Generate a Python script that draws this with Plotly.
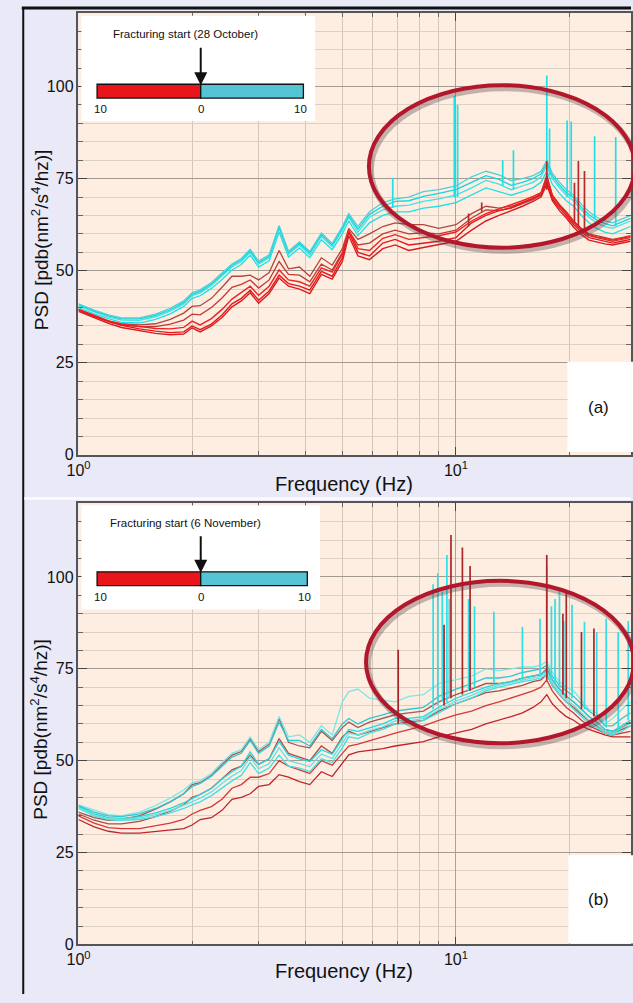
import plotly.graph_objects as go

# ---------------- data ----------------
FREQ = [1.0, 1.1, 1.2, 1.3, 1.45, 1.6, 1.75, 1.9, 2.0, 2.1, 2.25, 2.4, 2.55, 2.7, 2.85,
        3.0, 3.2, 3.4, 3.6, 3.85, 4.1, 4.4, 4.7, 5.0, 5.2, 5.5, 5.9, 6.4, 6.9, 7.5,
        8.2, 9.0, 10.0, 11.0, 12.0, 13.0, 14.0, 15.0, 16.0, 16.8, 17.4, 18.0, 18.8, 19.6,
        20.5, 21.5, 22.5, 23.6, 24.8, 26.0, 27.5, 29.0]

# panel (a) - after fracturing start (cyan)
A_CYAN_1 = [40.5, 38.8, 37.5, 36.6, 36.5, 37.5, 39.0, 41.0, 43.2, 44.0, 46.0, 48.5, 51.0, 52.5, 55.0,
            51.8, 53.5, 61.5, 54.5, 57.0, 54.3, 59.3, 56.5, 61.0, 64.5, 60.5, 64.5, 66.5, 67.5, 67.8,
            68.8, 69.5, 70.5, 72.5, 74.5, 73.5, 72.0, 73.0, 74.0, 75.5, 78.5, 75.0, 72.5, 70.5,
            69.0, 66.5, 64.5, 63.0, 62.0, 61.5, 62.5, 63.5]
A_CYAN_2 = [41.0, 39.3, 38.0, 37.2, 37.2, 38.2, 39.8, 41.8, 44.0, 44.8, 46.8, 49.3, 51.8, 53.3, 55.8,
            52.6, 54.3, 62.3, 55.3, 57.8, 55.2, 60.2, 57.4, 62.0, 65.5, 62.0, 66.0, 68.5, 69.5, 70.0,
            71.5, 72.0, 73.0, 75.5, 77.0, 76.0, 74.5, 75.0, 75.8, 77.0, 80.0, 76.5, 74.0, 72.0,
            70.5, 68.0, 66.0, 64.5, 63.5, 63.0, 64.0, 65.0]
A_CYAN_3 = [40.0, 38.3, 37.0, 36.0, 35.8, 36.8, 38.3, 40.3, 42.5, 43.2, 45.2, 47.6, 50.2, 51.7, 54.2,
            51.0, 52.7, 60.5, 53.7, 56.2, 53.5, 58.4, 55.7, 60.0, 63.5, 59.5, 63.0, 65.0, 66.0, 66.0,
            67.0, 67.5, 68.5, 70.5, 72.5, 71.5, 70.5, 71.5, 72.5, 74.0, 77.0, 73.5, 71.0, 69.0,
            67.5, 65.0, 63.0, 61.5, 60.5, 60.0, 61.0, 62.0]
A_CYAN_4 = [40.8, 39.0, 37.8, 36.9, 36.9, 37.9, 39.4, 41.4, 43.6, 44.4, 46.4, 48.9, 51.4, 52.9, 55.4,
            52.2, 53.9, 61.9, 54.9, 57.4, 54.8, 59.8, 57.0, 61.5, 65.0, 61.3, 65.3, 67.5, 68.8, 69.0,
            70.2, 71.0, 72.0, 74.0, 75.8, 74.8, 73.2, 74.0, 75.0, 76.3, 79.2, 75.8, 73.2, 71.2,
            69.8, 67.2, 65.2, 63.8, 62.8, 62.2, 63.2, 64.2]

# panel (a) - before fracturing start (red)
A_RED_1 = [39.3, 37.6, 36.2, 35.2, 34.2, 33.6, 33.2, 33.4, 35.0, 34.0, 35.5, 38.0, 41.0, 42.5, 44.7,
           42.0, 44.5, 48.8, 46.5, 45.8, 44.7, 49.8, 48.5, 53.5, 60.5, 55.0, 54.0, 57.5, 58.5, 57.0,
           57.5, 58.0, 59.0, 63.0, 65.0, 66.3, 67.1, 68.5, 69.8, 70.5, 74.5, 69.5, 67.0, 65.0,
           62.5, 60.5, 59.0, 58.5, 58.0, 57.5, 58.0, 58.5]
A_RED_2 = [39.0, 37.2, 35.7, 34.6, 33.7, 33.0, 32.6, 32.8, 34.5, 33.4, 35.0, 37.3, 40.2, 41.8, 44.0,
           41.2, 43.8, 48.0, 45.8, 45.0, 43.8, 49.0, 47.7, 52.5, 59.5, 54.0, 53.0, 56.0, 57.0, 55.5,
           56.3, 57.0, 58.0, 61.0, 63.5, 65.0, 66.2, 67.5, 68.8, 70.0, 73.5, 69.0, 66.3, 64.3,
           61.8, 59.8, 58.3, 57.8, 57.3, 57.0, 57.5, 58.0]
A_RED_3 = [39.5, 37.8, 36.4, 35.5, 34.8, 34.3, 34.2, 34.6, 36.3, 35.3, 37.0, 39.5, 42.3, 44.0, 45.8,
           43.3, 45.8, 50.2, 47.5, 47.0, 45.8, 50.8, 49.6, 54.5, 61.0, 56.0, 55.5, 58.8, 59.8, 58.5,
           59.0, 59.5, 60.5, 63.5, 65.5, 66.8, 67.8, 69.0, 70.2, 71.2, 75.5, 70.5, 67.8, 65.8,
           63.3, 61.3, 59.8, 59.2, 58.8, 58.3, 58.8, 59.3]
A_RED_4 = [39.5, 37.8, 36.4, 35.6, 35.3, 35.6, 36.8, 38.5, 40.3, 40.5, 42.5, 45.5, 48.5, 48.5, 48.8,
           47.5, 49.5, 55.5, 50.5, 51.0, 48.5, 53.5, 51.5, 56.0, 61.5, 58.5, 60.0, 62.0, 63.0, 62.5,
           62.5, 61.5, 62.5, 65.5, 67.5, 67.0, 67.5, 68.5, 69.5, 71.0, 76.0, 70.5, 68.0, 66.0,
           63.5, 61.5, 60.0, 59.5, 59.0, 58.5, 59.0, 59.5]
A_RED_5 = [39.4, 37.6, 36.2, 35.3, 34.8, 34.8, 35.5, 36.6, 38.2, 38.0, 40.0, 42.6, 45.5, 46.3, 47.5,
           45.3, 47.5, 52.5, 49.0, 48.8, 47.0, 51.8, 50.2, 55.0, 60.8, 57.0, 57.5, 60.0, 61.0, 60.0,
           60.3, 60.0, 61.0, 64.3, 66.5, 66.3, 67.0, 68.3, 69.3, 70.5, 75.0, 70.0, 67.5, 65.5,
           63.0, 61.0, 59.5, 59.0, 58.5, 58.0, 58.5, 59.0]

A_CYAN_SPIKE_F = [6.8, 9.9, 10.1, 13.3, 14.2, 17.4, 17.7, 19.7, 20.2, 23.3, 26.5]
A_CYAN_SPIKE_LO = [67.0, 70.0, 70.0, 73.0, 72.0, 78.0, 76.0, 70.0, 70.0, 64.0, 62.0]
A_CYAN_SPIKE_HI = [75.2, 97.5, 95.0, 80.0, 82.7, 103.0, 88.6, 90.8, 90.5, 86.5, 86.3]
A_RED_SPIKE_F = [10.8, 11.7, 17.4, 20.6, 21.1, 21.9]
A_RED_SPIKE_LO = [62.0, 66.0, 72.0, 63.0, 62.0, 61.0]
A_RED_SPIKE_HI = [65.5, 68.5, 79.8, 73.9, 79.8, 77.1]

# panel (b) - after fracturing start (cyan)
B_CYAN_1 = [38.0, 36.5, 35.3, 35.0, 36.0, 37.8, 39.8, 42.0, 44.0, 44.5, 46.5, 49.5, 52.0, 53.0, 56.5,
            53.0, 55.0, 62.0, 56.5, 57.0, 55.0, 59.5, 57.0, 66.0, 68.8, 69.5, 67.0, 66.5, 66.0, 67.5,
            68.0, 71.0, 72.0, 73.0, 75.0, 74.5, 75.0, 75.5, 75.5, 76.0, 77.0, 74.0, 71.5, 70.0,
            69.0, 66.5, 64.0, 63.0, 60.0, 61.5, 64.0, 66.0]
B_CYAN_2 = [37.5, 35.5, 34.5, 34.3, 34.8, 35.8, 37.0, 38.5, 39.7, 40.8, 42.5, 45.0, 47.0, 48.5, 52.4,
            49.0, 50.5, 55.2, 51.5, 50.5, 49.8, 53.0, 51.8, 56.0, 58.5, 58.0, 59.0, 60.0, 61.5, 61.5,
            62.0, 64.5, 67.0, 68.5, 70.0, 71.0, 71.5, 72.5, 73.0, 73.5, 74.5, 72.0, 69.5, 67.5,
            66.0, 64.0, 62.0, 60.5, 58.5, 58.0, 59.5, 61.0]
B_CYAN_3 = [37.0, 35.0, 34.0, 33.8, 34.0, 34.8, 35.8, 37.0, 38.0, 38.8, 40.5, 42.5, 44.5, 46.0, 49.5,
            46.5, 48.0, 51.5, 48.5, 48.0, 47.0, 50.5, 49.5, 53.5, 56.5, 56.0, 57.5, 58.5, 60.0, 60.0,
            61.0, 63.0, 65.5, 67.0, 69.0, 70.0, 70.8, 71.5, 72.0, 72.5, 73.5, 70.5, 68.0, 66.0,
            64.0, 62.0, 60.0, 59.0, 57.5, 57.0, 58.0, 59.5]
B_CYAN_4 = [37.8, 36.0, 35.0, 34.8, 35.5, 37.0, 38.8, 41.0, 43.0, 43.8, 45.8, 48.5, 51.0, 52.0, 55.5,
            52.0, 54.0, 60.5, 55.5, 55.5, 54.0, 58.5, 56.0, 60.0, 61.5, 60.0, 61.5, 62.5, 63.5, 64.0,
            64.5, 67.5, 69.5, 71.0, 72.5, 72.5, 73.0, 74.0, 74.5, 75.0, 76.0, 73.0, 70.5, 69.0,
            67.5, 65.5, 63.5, 62.0, 59.5, 59.5, 61.5, 63.0]
B_CYAN_5 = [37.2, 35.2, 34.2, 34.0, 34.4, 35.3, 36.4, 37.8, 38.8, 39.8, 41.5, 43.8, 45.8, 47.3, 51.0,
            47.8, 49.2, 53.5, 50.0, 49.2, 48.4, 51.8, 50.6, 54.8, 57.5, 57.0, 58.2, 59.2, 60.8, 60.8,
            61.5, 63.8, 66.2, 67.8, 69.5, 70.5, 71.2, 72.0, 72.5, 73.0, 74.0, 71.2, 68.8, 66.8,
            65.0, 63.0, 61.0, 59.8, 58.0, 57.5, 58.8, 60.2]

# panel (b) - before fracturing start (red)
B_RED_1 = [34.0, 32.0, 30.8, 30.3, 30.3, 30.7, 31.0, 31.5, 32.5, 34.0, 34.5, 36.5, 39.5, 40.0, 41.0,
           43.0, 43.5, 46.2, 45.5, 44.3, 43.5, 47.0, 45.7, 49.5, 51.6, 52.4, 52.8, 53.3, 54.0, 54.5,
           55.2, 56.5, 57.5, 58.5, 60.0, 61.0, 62.0, 63.0, 64.5, 66.0, 68.0, 65.5, 63.5, 62.0,
           61.0, 59.5, 58.5, 57.8, 57.0, 56.5, 56.5, 56.5]
B_RED_2 = [35.0, 33.0, 31.8, 31.5, 31.5, 32.2, 33.0, 34.0, 35.5, 36.5, 37.5, 39.5, 42.5, 43.5, 45.5,
           45.5, 46.5, 50.0, 48.5, 47.5, 46.5, 50.0, 48.8, 52.0, 54.0, 54.5, 55.5, 56.5, 57.5, 58.5,
           59.5, 61.0, 62.5, 63.5, 65.0, 66.0, 67.0, 68.0, 69.0, 70.0, 72.0, 69.0, 66.5, 64.5,
           63.0, 61.0, 59.5, 58.5, 57.5, 57.0, 57.5, 58.0]
B_RED_3 = [36.0, 34.5, 33.8, 34.0, 35.0, 36.8, 38.8, 41.0, 43.5, 44.0, 46.0, 49.0, 51.5, 52.5, 56.0,
           52.5, 54.5, 61.5, 55.0, 54.0, 53.5, 58.0, 55.5, 59.0, 60.5, 59.0, 60.5, 61.5, 62.5, 63.0,
           63.5, 66.0, 68.0, 69.5, 71.0, 71.0, 71.5, 72.5, 73.0, 73.5, 75.0, 72.0, 69.5, 67.5,
           66.0, 64.0, 62.0, 60.5, 58.5, 58.0, 59.0, 60.5]
B_RED_4 = [35.5, 33.8, 32.8, 32.8, 33.5, 34.8, 36.3, 38.0, 40.0, 40.8, 42.5, 45.0, 47.5, 48.5, 51.5,
           49.0, 50.5, 56.0, 52.0, 51.0, 50.0, 54.0, 52.0, 56.5, 58.0, 57.0, 58.0, 59.0, 60.0, 60.5,
           61.0, 63.5, 65.5, 67.0, 68.5, 69.0, 69.8, 70.5, 71.5, 72.0, 73.5, 70.5, 68.0, 66.0,
           64.5, 62.5, 60.8, 59.5, 58.0, 57.5, 58.5, 59.5]

B_CYAN_SPIKE_F = [8.7, 8.95, 9.2, 9.46, 9.6, 10.8, 11.2, 12.6, 15.0, 16.7, 17.4, 17.9, 18.3,
                  18.8, 19.3, 20.3, 21.9, 23.6, 25.0, 26.9, 28.6]
B_CYAN_SPIKE_LO = [64.0, 65.0, 66.0, 66.0, 67.0, 69.0, 70.0, 71.0, 72.0, 73.0, 74.0, 72.0, 71.0,
                   70.0, 69.0, 67.0, 64.0, 61.0, 59.0, 58.0, 61.0]
B_CYAN_SPIKE_HI = [98.0, 101.0, 96.0, 106.0, 94.0, 94.0, 92.0, 90.5, 86.4, 88.6, 103.0, 92.0, 94.0,
                   96.5, 88.0, 92.4, 87.8, 85.0, 88.6, 85.0, 88.0]
B_RED_SPIKE_F = [7.03, 9.3, 9.7, 10.4, 10.9, 17.4, 19.2, 19.6, 21.5, 23.2]
B_RED_SPIKE_LO = [60.0, 65.0, 67.0, 68.0, 69.0, 72.0, 68.0, 67.0, 64.0, 62.0]
B_RED_SPIKE_HI = [80.2, 87.0, 111.4, 108.0, 103.0, 106.0, 90.0, 96.0, 85.0, 86.0]

Y_TICKS = [0, 25, 50, 75, 100]
X_TICKS = [1, 10]
X_TICK_TEXT = ["10<sup>0</sup>", "10<sup>1</sup>"]
X_MINOR = [2, 3, 4, 5, 6, 7, 8, 9, 20]

# ---------------- styling ----------------
W, H = 633, 1003
FONT = "Liberation Sans, Arial, Helvetica, sans-serif"
PAPER = "#e9e9f7"

def px(x):
    return x / W

def py(y):
    return 1 - y / H

fig = go.Figure()

def add_curves(curves, colors, xa, ya, width=1.3):
    for vals, col in zip(curves, colors):
        fig.add_trace(go.Scatter(x=FREQ, y=vals, mode="lines",
                                 line=dict(color=col, width=width),
                                 xaxis=xa, yaxis=ya, showlegend=False, hoverinfo="skip"))

def add_spikes(fs, lo, hi, color, xa, ya, width=1.7):
    xs, ys = [], []
    for f, a, b in zip(fs, lo, hi):
        xs += [f, f, None]
        ys += [a, b, None]
    fig.add_trace(go.Scatter(x=xs, y=ys, mode="lines", line=dict(color=color, width=width),
                             xaxis=xa, yaxis=ya, showlegend=False, hoverinfo="skip"))

# panel (a)
add_curves([A_RED_4, A_RED_5], ["#b0473f", "#c23a33"], "x", "y")
add_curves([A_CYAN_3, A_CYAN_1, A_CYAN_4, A_CYAN_2],
           ["#22dfe6", "#3fe3e6", "#12d6de", "#4fd0d6"], "x", "y")
add_curves([A_RED_1, A_RED_2, A_RED_3], ["#e8161b", "#d81c1f", "#ee2222"], "x", "y", width=1.4)
add_spikes(A_CYAN_SPIKE_F, A_CYAN_SPIKE_LO, A_CYAN_SPIKE_HI, "#22dfe6", "x", "y")
add_spikes(A_RED_SPIKE_F, A_RED_SPIKE_LO, A_RED_SPIKE_HI, "#b52a2a", "x", "y")

# panel (b)
add_curves([B_RED_1, B_RED_2, B_RED_3, B_RED_4],
           ["#c0242a", "#d23a3a", "#9e5a55", "#b04a46"], "x2", "y2")
add_curves([B_CYAN_1, B_CYAN_2, B_CYAN_3, B_CYAN_4, B_CYAN_5],
           ["#7ce6e6", "#22d8e0", "#40e0e4", "#2fc8d0", "#66e2e2"], "x2", "y2")
add_spikes(B_CYAN_SPIKE_F, B_CYAN_SPIKE_LO, B_CYAN_SPIKE_HI, "#30dfe6", "x2", "y2")
add_spikes(B_RED_SPIKE_F, B_RED_SPIKE_LO, B_RED_SPIKE_HI, "#a8282a", "x2", "y2")

def xaxis_cfg(anchor):
    return dict(type="log", range=[0, 1.4637], domain=[px(68), 1.0], anchor=anchor,
                tickvals=X_TICKS, ticktext=X_TICK_TEXT, ticks="inside", ticklen=8,
                tickcolor="#444", tickwidth=1.2, showline=True, linecolor="#555",
                linewidth=1.5, mirror="ticks", showgrid=True, gridcolor="#aaa29b",
                gridwidth=1, zeroline=False,
                minor=dict(tickvals=X_MINOR, ticks="inside", ticklen=4, tickcolor="#666",
                           showgrid=True, gridcolor="#d3c6bb", gridwidth=1),
                tickfont=dict(family=FONT, size=16, color="#111"))

def yaxis_cfg(anchor, dom):
    return dict(range=[0, 120], domain=dom, anchor=anchor, tickvals=Y_TICKS,
                ticks="inside", ticklen=9, tickcolor="#444", tickwidth=1.2,
                showline=True, linecolor="#555", linewidth=1.5, mirror="ticks",
                showgrid=True, gridcolor="#a39a92", gridwidth=1, zeroline=False,
                minor=dict(dtick=5, tick0=0, ticks="inside", ticklen=5, tickcolor="#666",
                           showgrid=True, gridcolor="#dccfc3", gridwidth=1),
                tickfont=dict(family=FONT, size=16, color="#111"))

shapes = []
annotations = []

def rect(x0, y0, x1, y1, fill, line_color=None, lw=0):
    shapes.append(dict(type="rect", xref="paper", yref="paper",
                       x0=px(x0), x1=px(x1), y0=py(y1), y1=py(y0),
                       fillcolor=fill, line=dict(color=line_color or fill, width=lw),
                       layer="above"))

def text(x, y, s, size, angle=0):
    annotations.append(dict(x=px(x), y=py(y), xref="paper", yref="paper", text=s,
                            showarrow=False, textangle=angle,
                            font=dict(family=FONT, size=size, color="#111"),
                            xanchor="center", yanchor="middle"))

def ellipse(x0, y0, x1, y1):
    shapes.append(dict(type="circle", xref="paper", yref="paper",
                       x0=px(x0 + 2), x1=px(x1 + 2), y0=py(y1 + 3), y1=py(y0 + 3),
                       line=dict(color="rgba(90,60,70,0.35)", width=6), layer="above"))
    shapes.append(dict(type="circle", xref="paper", yref="paper",
                       x0=px(x0), x1=px(x1), y0=py(y1), y1=py(y0),
                       line=dict(color="#b3172c", width=4), layer="above"))

def inset(top, bottom, right, label, bar_top, bar_right, arrow_top):
    rect(71, top, right, bottom, "white")
    text(177, top + 18, label, 11.5)
    rect(87, bar_top, 193, bar_top + 14, "#e8161b", "#111", 1.3)
    rect(193, bar_top, bar_right, bar_top + 14, "#55c4d4", "#111", 1.3)
    annotations.append(dict(x=px(193), y=py(bar_top + 1), xref="paper", yref="paper",
                            ax=0, ay=-(bar_top + 1 - arrow_top), axref="pixel", ayref="pixel",
                            text="", showarrow=True, arrowhead=2, arrowsize=1.3,
                            arrowwidth=2, arrowcolor="#111"))
    text(90, bar_top + 25, "10", 11.5)
    text(193, bar_top + 25, "0", 11.5)
    text(bar_right - 3, bar_top + 25, "10", 11.5)

# figure frame lines
shapes.append(dict(type="line", xref="paper", yref="paper", x0=px(10), x1=1.0,
                   y0=py(8), y1=py(8), line=dict(color="#111", width=3), layer="above"))
shapes.append(dict(type="line", xref="paper", yref="paper", x0=px(11.5), x1=px(11.5),
                   y0=py(7), y1=0, line=dict(color="#111", width=2), layer="above"))
shapes.append(dict(type="line", xref="paper", yref="paper", x0=px(12.5), x1=1.0,
                   y0=py(503), y1=py(503), line=dict(color="#fbfbff", width=2.5), layer="above"))

# panel (a) decorations
inset(16, 122, 310, "Fracturing start (28 October)", 85, 298, 47)
rect(568, 365, 640, 456, "white")
text(600, 411, "(a)", 17)
ellipse(365, 86, 637, 250)
text(340, 488, "Frequency (Hz)", 20)
text(28, 242, "PSD [pdb(nm<sup>2</sup>/s<sup>4</sup>/hz)]", 19, -90)

# panel (b) decorations
inset(510, 615, 315, "Fracturing start (6 November)", 577, 302, 540)
rect(569, 863, 640, 952, "white")
text(600, 908, "(b)", 17)
ellipse(362, 586, 636, 750)
text(340, 980, "Frequency (Hz)", 20)
text(28, 736, "PSD [pdb(nm<sup>2</sup>/s<sup>4</sup>/hz)]", 19, -90)

fig.update_layout(
    width=W, height=H, autosize=False,
    margin=dict(l=0, r=0, t=0, b=0, pad=0),
    paper_bgcolor=PAPER, plot_bgcolor="#fdeee1",
    showlegend=False,
    xaxis=xaxis_cfg("y"),
    yaxis=yaxis_cfg("x", [py(459), py(13)]),
    xaxis2=xaxis_cfg("y2"),
    yaxis2=yaxis_cfg("x2", [py(953), py(508)]),
    shapes=shapes,
    annotations=annotations,
)

fig.write_html(
    "out.html",
    config={"displayModeBar": False},
    post_script="document.body.style.margin='0';document.body.style.overflow='hidden';"
                "document.body.style.background='" + PAPER + "';",
)
